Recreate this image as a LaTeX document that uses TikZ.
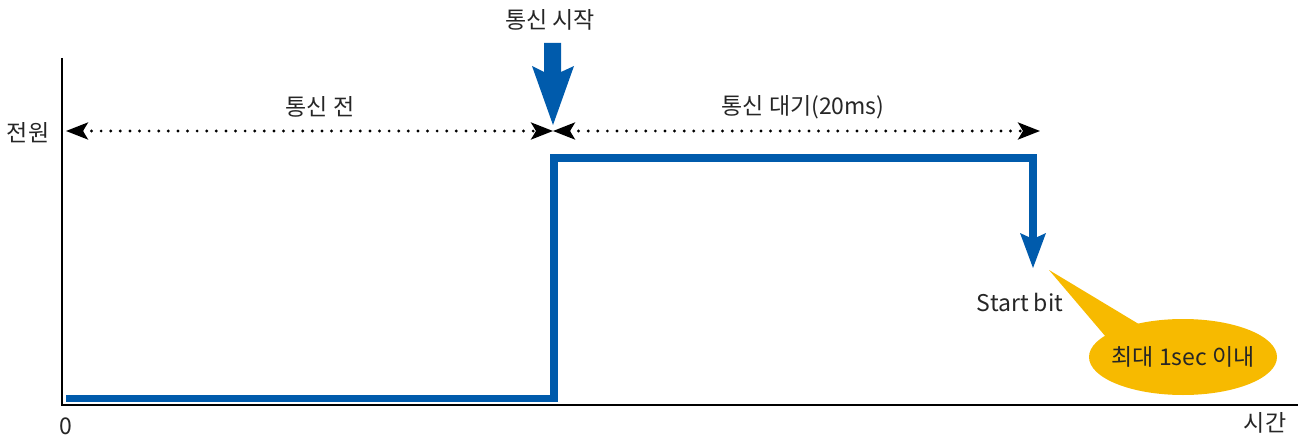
\documentclass[tikz,border=0pt]{standalone}
\usepackage{fontspec}
\setmainfont{Noto Sans CJK KR}
\usetikzlibrary{arrows.meta}
\definecolor{sigblue}{HTML}{005BAC}
\definecolor{calloutyel}{HTML}{F7BA00}
\begin{document}
\begin{tikzpicture}[x=1pt,y=-1pt,
  lbl/.style={font=\fontsize{23}{27}\selectfont, inner sep=0pt, text=black!85},
  axisline/.style={line width=2.5pt, black},
  dotline/.style={line width=3.2pt, line cap=round, dash pattern=on 0pt off 9.6pt,
     {Stealth[length=22pt,width=17pt,inset=5pt]}-{Stealth[length=22pt,width=17pt,inset=5pt]}},
  signal/.style={line width=7.5pt, sigblue, line join=miter},
  bluefill/.style={fill=sigblue, draw=none}]
\useasboundingbox (0,0) rectangle (1301,436);
% axes
\coordinate (ytop) at (62,58);
\coordinate (o) at (62,405);
\coordinate (xend) at (1298,405);
\draw[axisline] (ytop) -- (o) -- (xend);
% labels
\node[lbl] (start) at (550,20) {통신 시작};
\node[lbl] (before) at (320,107) {통신 전};
\node[lbl] (wait) at (803,107) {통신 대기(20ms)};
\node[lbl] (power) at (28,133) {전원};
\node[lbl] (zero) at (66,426) {0};
\node[lbl] (time) at (1265,423) {시간};
\node[lbl] (sb) at (1020,302) {Start bit};
% dotted arrows
\coordinate (dl) at (66,131);
\coordinate (dm) at (553,131);
\coordinate (dr) at (1040,131);
\draw[dotline] (dl) -- (dm);
\draw[dotline] (dm) -- (dr);
% start arrow
\path[bluefill] (532,66) -- (544,72) -- (544,43) -- (561,43) -- (561,72) -- (574,66) -- (553,125) -- cycle;
% signal
\coordinate (s0) at (66,398.5);
\coordinate (s1) at (554,398.5);
\coordinate (s2) at (554,158);
\coordinate (s3) at (1033,158);
\coordinate (s4) at (1033,240);
\draw[signal] (s0) -- (s1) -- (s2) -- (s3) -- (s4);
\path[bluefill] (1020,233) -- (1033,239) -- (1046,233) -- (1033,268) -- cycle;
% callout
\path[fill=calloutyel] (1049,270) -- (1106,337) -- (1142,326) -- cycle;
\path[fill=calloutyel] (1183,357) ellipse [x radius=94, y radius=38];
\node[lbl] (note) at (1183,357) {최대 1sec 이내};
\end{tikzpicture}
\end{document}
